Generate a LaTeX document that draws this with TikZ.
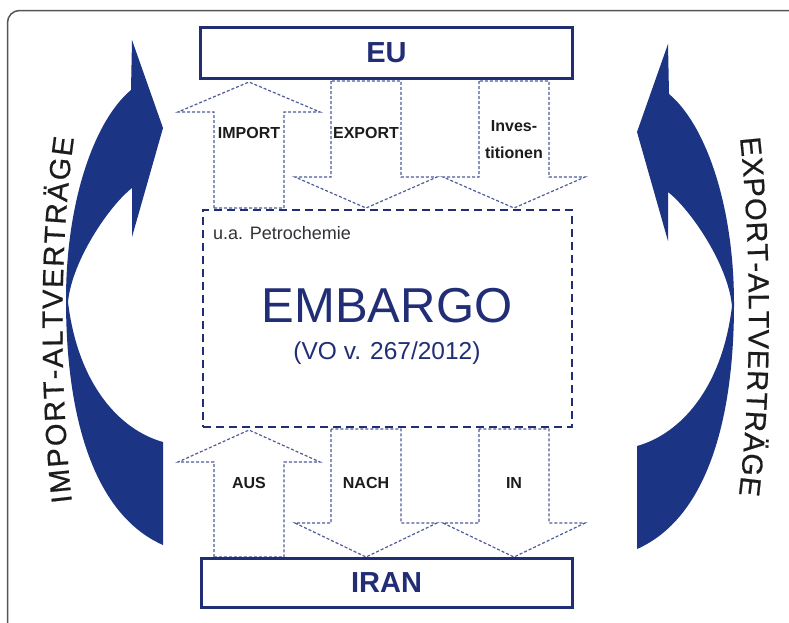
\documentclass[tikz,border=0pt]{standalone}
\usepackage{fontspec}
\setmainfont{Liberation Sans}
\newfontfamily\sidefam[FakeBold=0.6]{Liberation Sans}
\usetikzlibrary{decorations.text}
\definecolor{navy}{RGB}{33,46,118}
\definecolor{arrowblue}{RGB}{28,52,132}
\definecolor{dotblue}{RGB}{78,92,155}
\definecolor{framegray}{RGB}{85,85,85}
\definecolor{labelgray}{RGB}{28,28,28}
\definecolor{subgray}{RGB}{50,50,55}
\newcommand\sidefont{\sidefam\fontsize{29}{29}\selectfont}
\tikzset{
  countrybox/.style={draw=navy, line width=3pt, fill=white, inner sep=0pt,
    text=navy, font=\fontsize{29}{29}\selectfont\bfseries},
  embargobox/.style={draw=navy, line width=2.6pt, dash pattern=on 8pt off 5pt, inner sep=0pt},
  flowarrow/.style={draw=dotblue, line width=1.2pt, dash pattern=on 3pt off 2pt, line join=miter},
  flowlabel/.style={text=labelgray, font=\fontsize{16}{27}\selectfont\bfseries, inner sep=0pt, align=center},
  bigarrow/.style={fill=arrowblue},
}
% up arrow: cx, tip y, head base y, bottom y
\newcommand\uparrowshape[4]{%
  \draw[flowarrow] ({#1-35},#4) -- ({#1-35},#3) -- ({#1-71},#3) -- (#1,#2)
    -- ({#1+71},#3) -- ({#1+35},#3) -- ({#1+35},#4) -- cycle;}
% down arrow: cx, top y, head base y, tip y
\newcommand\downarrowshape[4]{%
  \draw[flowarrow] ({#1-35},#2) -- ({#1-35},#3) -- ({#1-71},#3) -- (#1,#4)
    -- ({#1+71},#3) -- ({#1+35},#3) -- ({#1+35},#2) -- cycle;}
\newcommand\curvedarrow{%
  \fill[bigarrow] (132,40) -- (163,128) -- (132,237) -- (132,188)
    .. controls (110,205) and (72,260) .. (68,302)
    .. controls (78,385) and (120,430) .. (163,442)
    -- (163,545)
    .. controls (95,515) and (66,420) .. (66,300)
    .. controls (66,200) and (95,120) .. (131,90)
    -- cycle;}
\begin{document}
\begin{tikzpicture}[x=1pt,y=-1pt]
\useasboundingbox (0,0) rectangle (789,622);
\clip (0,0) rectangle (789,622);
\fill[white] (0,0) rectangle (789,622);
\draw[framegray, line width=1.5pt, rounded corners=12pt] (7.5,10.5) rectangle (810,640);

% big curved arrows
\curvedarrow
\begin{scope}[xshift=800pt, xscale=-1, yshift=-4pt]
\curvedarrow
\end{scope}

% side texts (non-reflected frame)
\begin{scope}[y=1pt]
\path[decorate, decoration={text along path, text color=labelgray,
   text={|\sidefont|IMPORT-ALTVERTRÄGE}, text align=fit to path}]
   (72,-502) .. controls (60,-400) and (58,-250) .. (74,-138);
\path[decorate, decoration={text along path, text color=labelgray,
   text={|\sidefont|EXPORT-ALTVERTRÄGE}, text align=fit to path}]
   (740,-138) .. controls (752,-250) and (752,-390) .. (739,-495);
\end{scope}

% embargo box
\node[embargobox, minimum width=369pt, minimum height=217pt] (embargo) at (387.5,318.5) {};
\node[anchor=west, inner sep=0pt, text=subgray, font=\fontsize{18}{18}\selectfont] (petro) at (213,233) {u.a. Petrochemie};
\node[inner sep=0pt, text=navy, font=\fontsize{49}{49}\selectfont] (embtitle) at (387,306) {EMBARGO};
\node[inner sep=0pt, text=navy, font=\fontsize{24.5}{24.5}\selectfont] (vo) at (387,353) {(VO v. 267/2012)};

% flow arrows top
\uparrowshape{249}{82}{112}{208}
\downarrowshape{366}{81}{177}{208}
\downarrowshape{514}{81}{177}{208}
% flow arrows bottom
\uparrowshape{249}{430}{462}{557}
\downarrowshape{366}{429}{523}{557}
\downarrowshape{514}{429}{523}{557}

% country boxes
\node[countrybox, minimum width=372pt, minimum height=51pt] (eu) at (386.5,53) {EU};
\node[countrybox, minimum width=371pt, minimum height=49pt] (iran) at (386.5,582.5) {IRAN};

% labels
\node[flowlabel] (import) at (249,133) {IMPORT};
\node[flowlabel] (export) at (366,133) {EXPORT};
\node[flowlabel] (invest) at (514,140) {Inves-\\titionen};
\node[flowlabel] (aus) at (249,483) {AUS};
\node[flowlabel] (nach) at (366,483) {NACH};
\node[flowlabel] (in) at (514,483) {IN};
\end{tikzpicture}
\end{document}
